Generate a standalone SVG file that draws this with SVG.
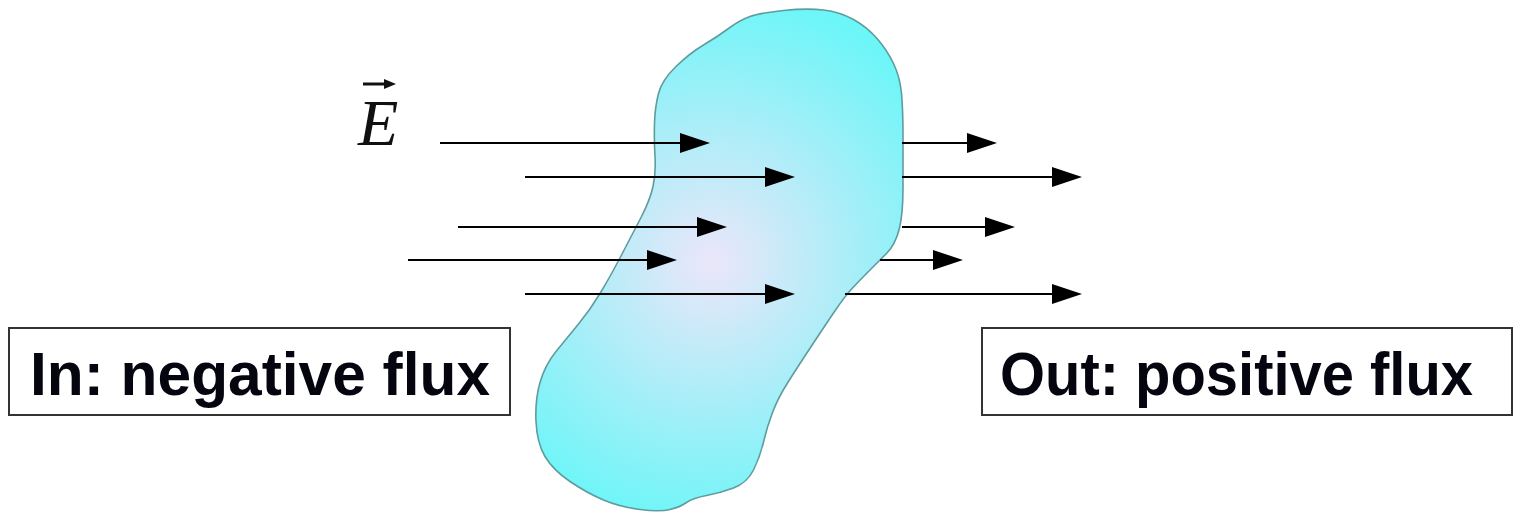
<svg xmlns="http://www.w3.org/2000/svg" width="1514" height="512" viewBox="0 0 1514 512">
<style>
.ln{stroke:#000;stroke-width:2;fill:none;marker-end:url(#ah)}
.box{fill:#fff;stroke:#333;stroke-width:2}
.lbl{font-family:"Liberation Sans",Arial,sans-serif;font-weight:bold;font-size:61px;fill:#050510}
</style>
<defs>
<marker id="ah" markerUnits="userSpaceOnUse" markerWidth="30" markerHeight="20" refX="20" refY="10" orient="auto">
<path d="M0,0 L30,10 L0,20 z" fill="#000"/>
</marker>
<radialGradient id="g" gradientUnits="userSpaceOnUse" cx="712" cy="262" r="270">
<stop offset="0" stop-color="#ece6fa"/>
<stop offset="0.4" stop-color="#b8ecf8"/>
<stop offset="1" stop-color="#6cf6f8"/>
</radialGradient>
</defs>
<rect width="1514" height="512" fill="#fff"/>
<g id="blob">
<path d="M783.5,10.5 Q807,8 823.5,10 Q840,12 853.5,19.5 Q867,27 877,38.5 Q887,50 893.5,63.5 Q900,77 901.5,93.5 Q903,110 903,135 Q903,160 903,187.5 Q903,215 899,230 Q895,245 886.5,253.5 Q878,262 869,271 Q860,280 852.5,288 Q845,296 833.5,313 Q822,330 809.5,349 Q797,368 787.5,383 Q778,398 772.5,412.5 Q767,427 763.5,442 Q760,457 753.5,470 Q747,483 733.5,488 Q720,493 706.5,495.5 Q693,498 686.5,502.5 Q680,507 670,509.5 Q660,512 640,509.5 Q620,507 603.5,500 Q587,493 570,481.5 Q553,470 545,456.5 Q537,443 536,421.5 Q535,400 540,382.5 Q545,365 556,351.5 Q567,338 578.5,324 Q590,310 600,293.5 Q610,277 621.5,255 Q633,233 641.5,216.5 Q650,200 653,186.5 Q656,173 655,156.5 Q654,140 654.5,123.5 Q655,107 658.5,93.5 Q662,80 676,66.5 Q690,53 703.5,45 Q717,37 728.5,28.5 Q740,20 750,16.5 Q760,13 783.5,10.5 Z" fill="url(#g)" stroke="#5e9c9e" stroke-width="1.6"/>
</g>
<g id="connectors">
<line class="ln" x1="440" y1="143" x2="700" y2="143"/>
<line class="ln" x1="525" y1="177" x2="785" y2="177"/>
<line class="ln" x1="458" y1="227" x2="717" y2="227"/>
<line class="ln" x1="408" y1="260" x2="667" y2="260"/>
<line class="ln" x1="525" y1="294" x2="785" y2="294"/>
<line class="ln" x1="902" y1="143" x2="987" y2="143"/>
<line class="ln" x1="902" y1="177" x2="1072" y2="177"/>
<line class="ln" x1="902" y1="227" x2="1005" y2="227"/>
<line class="ln" x1="880" y1="260" x2="953" y2="260"/>
<line class="ln" x1="845" y1="294" x2="1072" y2="294"/>
</g>
<g id="field-label">
<text x="358" y="145" font-family="'Liberation Serif','Times New Roman',serif" font-style="italic" font-size="66" fill="#111">E</text>
<line x1="363" y1="84" x2="386" y2="84" stroke="#111" stroke-width="3"/>
<path d="M384,79 L396,84 L384,89 z" fill="#111"/>
</g>
<g id="in-label">
<rect class="box" x="9" y="328" width="501" height="87"/>
<text class="lbl" x="30" y="395" textLength="460" lengthAdjust="spacingAndGlyphs">In: negative flux</text>
</g>
<g id="out-label">
<rect class="box" x="982" y="328" width="530" height="87"/>
<text class="lbl" x="1000" y="395" textLength="473" lengthAdjust="spacingAndGlyphs">Out: positive flux</text>
</g>
</svg>
